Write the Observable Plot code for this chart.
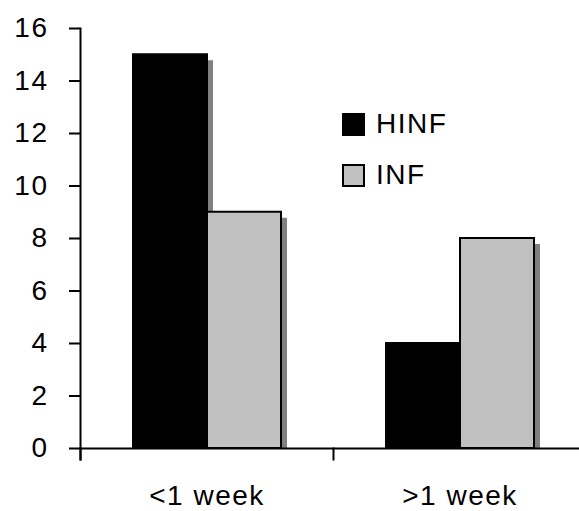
<!DOCTYPE html>
<html>
<head>
<meta charset="utf-8">
<script src="https://cdn.jsdelivr.net/npm/d3@7"></script>
<script src="https://cdn.jsdelivr.net/npm/@observablehq/plot@0.6"></script>
<style>
  html, body { margin: 0; padding: 0; background: #fff; }
  #wrap { position: relative; width: 579px; height: 511px; font-family: "Liberation Sans", Arial, sans-serif; }
  #wrap svg text { letter-spacing: 1.5px; }
  #legend { position: absolute; left: 342px; top: 112px; font-size: 28px; line-height: 1; color: #000; letter-spacing: 1.5px; }
  .item { display: flex; align-items: center; height: 24px; margin-bottom: 27px; }
  .sw { width: 23px; height: 23px; box-sizing: border-box; border: 2px solid #000; margin-right: 11px; }
</style>
</head>
<body>
<div id="wrap"><div id="legend"></div></div>
<script>
const categories = ["<1 week", ">1 week"];
const series = ["HINF", "INF"];
const hinfValues = [15, 4];
const infValues = [9, 8];
const yTicks = [0, 2, 4, 6, 8, 10, 12, 14, 16];
const seriesColors = ["#000000", "#c0c0c0"];
const shadowColor = "#808080";

const data = categories.flatMap((c, i) => [
  {cat: c, s: series[0], v: hinfValues[i]},
  {cat: c, s: series[1], v: infValues[i]}
]);

const W = 579, H = 511, mT = 28, mB = 63, mL = 80;
const innerH = H - mT - mB;

const chart = Plot.plot({
  width: W,
  height: H,
  marginTop: mT,
  marginBottom: mB,
  marginLeft: mL,
  marginRight: 0,
  style: {fontFamily: "'Liberation Sans', Arial, sans-serif", fontSize: "28px", color: "#000", background: "transparent", overflow: "visible"},
  fx: {domain: categories, range: [mL, 586], padding: 0, axis: null, label: null},
  x: {domain: series, paddingInner: 0, paddingOuter: 0.69, axis: null, label: null},
  y: {domain: [0, 16], axis: null, label: null},
  color: {domain: series, range: seriesColors},
  marks: [
    Plot.barY(data, {fx: "cat", x: "s", y1: 0, y2: "v", fill: shadowColor, dx: 6, insetTop: 6}),
    Plot.barY(data, {fx: "cat", x: "s", y1: 0, y2: "v", fill: "s", stroke: "#000", strokeWidth: 2}),
    Plot.ruleY([0], {stroke: "#000", strokeWidth: 2}),
    Plot.frame({anchor: "left", facetAnchor: "left", stroke: "#000", strokeWidth: 2, insetBottom: -11}),
    Plot.frame({anchor: "left", stroke: "#000", strokeWidth: 2, insetTop: innerH, insetBottom: -11}),
    Plot.axisY({ticks: yTicks, tickSize: 11, tickPadding: 21, tickFormat: d => String(d), label: null, fontSize: 28, strokeWidth: 2}),
    Plot.axisFx({anchor: "bottom", tickSize: 0, tickPadding: 37, label: null, fontSize: 28})
  ]
});

const wrap = document.getElementById("wrap");
wrap.insertBefore(chart, wrap.firstChild);

const legend = document.getElementById("legend");
series.forEach((s, i) => {
  const item = document.createElement("div");
  item.className = "item";
  const sw = document.createElement("span");
  sw.className = "sw";
  sw.style.background = seriesColors[i];
  const label = document.createElement("span");
  label.textContent = s;
  item.appendChild(sw);
  item.appendChild(label);
  legend.appendChild(item);
});
</script>
</body>
</html>
